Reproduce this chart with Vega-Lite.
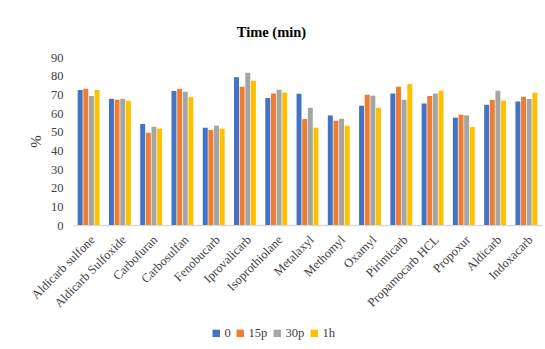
{
  "$schema": "https://vega.github.io/schema/vega-lite/v6.json",
  "width": 469,
  "height": 168,
  "autosize": {"type": "none"},
  "padding": {"left": 73, "top": 57, "right": 3, "bottom": 124},
  "background": "white",
  "title": {"text": "Time (min)", "font": "'Liberation Serif', 'Times New Roman', serif", "fontSize": 14.5, "fontWeight": "bold", "color": "#000000", "offset": 11, "anchor": "middle", "dx": -36},
  "config": {
    "view": {"stroke": null},
    "font": "'Liberation Serif', 'Times New Roman', serif"
  },
  "data": {
    "values": [
      {"c": "Aldicarb sulfone", "t": "0", "v": 72.3}, {"c": "Aldicarb sulfone", "t": "15p", "v": 73.0}, {"c": "Aldicarb sulfone", "t": "30p", "v": 69.1}, {"c": "Aldicarb sulfone", "t": "1h", "v": 72.3},
      {"c": "Aldicarb Sulfoxide", "t": "0", "v": 67.6}, {"c": "Aldicarb Sulfoxide", "t": "15p", "v": 67.1}, {"c": "Aldicarb Sulfoxide", "t": "30p", "v": 67.6}, {"c": "Aldicarb Sulfoxide", "t": "1h", "v": 66.6},
      {"c": "Carbofuran", "t": "0", "v": 54.1}, {"c": "Carbofuran", "t": "15p", "v": 49.4}, {"c": "Carbofuran", "t": "30p", "v": 52.6}, {"c": "Carbofuran", "t": "1h", "v": 51.6},
      {"c": "Carbosulfan", "t": "0", "v": 71.8}, {"c": "Carbosulfan", "t": "15p", "v": 72.8}, {"c": "Carbosulfan", "t": "30p", "v": 71.4}, {"c": "Carbosulfan", "t": "1h", "v": 68.5},
      {"c": "Fenobucarb", "t": "0", "v": 52.1}, {"c": "Fenobucarb", "t": "15p", "v": 50.9}, {"c": "Fenobucarb", "t": "30p", "v": 53.2}, {"c": "Fenobucarb", "t": "1h", "v": 51.6},
      {"c": "Iprovalicarb", "t": "0", "v": 79.1}, {"c": "Iprovalicarb", "t": "15p", "v": 74.1}, {"c": "Iprovalicarb", "t": "30p", "v": 81.6}, {"c": "Iprovalicarb", "t": "1h", "v": 77.3},
      {"c": "Isoprothiolane", "t": "0", "v": 68.0}, {"c": "Isoprothiolane", "t": "15p", "v": 70.5}, {"c": "Isoprothiolane", "t": "30p", "v": 72.5}, {"c": "Isoprothiolane", "t": "1h", "v": 71.0},
      {"c": "Metalaxyl", "t": "0", "v": 70.3}, {"c": "Metalaxyl", "t": "15p", "v": 56.8}, {"c": "Metalaxyl", "t": "30p", "v": 62.8}, {"c": "Metalaxyl", "t": "1h", "v": 52.1},
      {"c": "Methomyl", "t": "0", "v": 58.7}, {"c": "Methomyl", "t": "15p", "v": 55.9}, {"c": "Methomyl", "t": "30p", "v": 56.9}, {"c": "Methomyl", "t": "1h", "v": 53.2},
      {"c": "Oxamyl", "t": "0", "v": 63.9}, {"c": "Oxamyl", "t": "15p", "v": 69.8}, {"c": "Oxamyl", "t": "30p", "v": 69.3}, {"c": "Oxamyl", "t": "1h", "v": 62.8},
      {"c": "Pirimicarb", "t": "0", "v": 70.5}, {"c": "Pirimicarb", "t": "15p", "v": 74.1}, {"c": "Pirimicarb", "t": "30p", "v": 67.1}, {"c": "Pirimicarb", "t": "1h", "v": 75.5},
      {"c": "Propamocarb HCL", "t": "0", "v": 65.1}, {"c": "Propamocarb HCL", "t": "15p", "v": 69.1}, {"c": "Propamocarb HCL", "t": "30p", "v": 70.5}, {"c": "Propamocarb HCL", "t": "1h", "v": 71.9},
      {"c": "Propoxur", "t": "0", "v": 57.5}, {"c": "Propoxur", "t": "15p", "v": 59.1}, {"c": "Propoxur", "t": "30p", "v": 58.7}, {"c": "Propoxur", "t": "1h", "v": 52.5},
      {"c": "Aldicarb", "t": "0", "v": 64.4}, {"c": "Aldicarb", "t": "15p", "v": 67.1}, {"c": "Aldicarb", "t": "30p", "v": 71.9}, {"c": "Aldicarb", "t": "1h", "v": 66.6},
      {"c": "Indoxacarb", "t": "0", "v": 66.2}, {"c": "Indoxacarb", "t": "15p", "v": 68.7}, {"c": "Indoxacarb", "t": "30p", "v": 67.5}, {"c": "Indoxacarb", "t": "1h", "v": 70.9}
    ]
  },
  "mark": {"type": "bar"},
  "encoding": {
    "x": {
      "field": "c", "type": "nominal", "sort": null,
      "scale": {"paddingInner": 0.3, "paddingOuter": 0.15},
      "axis": {"title": null, "labelAngle": -45, "labelFont": "'Liberation Serif', 'Times New Roman', serif", "labelFontSize": 12.5, "labelColor": "#404040", "ticks": false, "labelPadding": 8, "domainColor": "#D9D9D9", "domainWidth": 1.5}
    },
    "xOffset": {"field": "t", "type": "nominal", "sort": ["0", "15p", "30p", "1h"], "scale": {"paddingInner": 0.12}},
    "y": {
      "field": "v", "type": "quantitative",
      "scale": {"domain": [0, 90]},
      "axis": {"title": "%", "titleFont": "'Liberation Serif', 'Times New Roman', serif", "titleFontSize": 15, "titleFontWeight": "normal", "titleColor": "#404040", "titlePadding": 7, "labelFont": "'Liberation Serif', 'Times New Roman', serif", "labelFontSize": 12.5, "labelColor": "#404040", "values": [0,10,20,30,40,50,60,70,80,90], "labelOverlap": false, "grid": false, "domain": false, "ticks": false, "labelPadding": 10}
    },
    "color": {
      "field": "t", "type": "nominal",
      "scale": {"domain": ["0", "15p", "30p", "1h"], "range": ["#4472C4", "#ED7D31", "#A5A5A5", "#FFC000"]},
      "legend": {"title": null, "orient": "none", "direction": "horizontal", "legendX": 137, "legendY": 270, "symbolType": "square", "symbolSize": 55, "symbolStrokeWidth": 0, "labelFont": "'Liberation Serif', 'Times New Roman', serif", "labelFontSize": 12.5, "labelColor": "#404040", "columnPadding": 3, "symbolOffset": 0, "labelOffset": 2}
    }
  }
}
